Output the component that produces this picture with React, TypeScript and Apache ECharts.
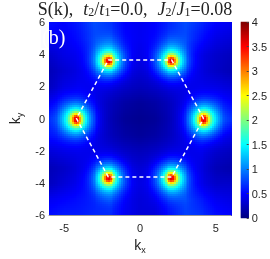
import React, { useEffect, useRef } from "react";
import * as echarts from "echarts";

// axis ranges and ticks
const kRange = [-6, 6];
const xTickValues = [-5, 0, 5];
const yTickInterval = 2;
const cbRange = [0, 4];
const cbInterval = 0.5;

// Bragg peaks (hexagon vertices): sharp core + broad halo
const peakKx = [4.19, 2.09, -2.09, -4.19, -2.09, 2.09];
const peakKy = [0, 3.63, 3.63, 0, -3.63, -3.63];
const peakCore = [1.7, 1.7, 1.7, 1.7, 1.7, 1.7];
const peakCoreWidth = [0.25, 0.25, 0.25, 0.25, 0.25, 0.25];
const peakHalo = [1.5, 1.5, 1.5, 1.5, 1.5, 1.5];
const peakHaloWidth = [0.66, 0.66, 0.66, 0.66, 0.66, 0.66];

// background S(k) read at integer k; rows ky = 6 .. -6, columns kx = -6 .. 6
const bgRow6 = [0.55, 0.5, 0.6, 0.8, 0.7, 0.5, 0.45, 0.5, 0.65, 0.8, 0.65, 0.5, 0.45];
const bgRow5 = [0.45, 0.45, 0.55, 0.75, 0.75, 0.5, 0.45, 0.5, 0.7, 0.75, 0.55, 0.4, 0.35];
const bgRow4 = [0.3, 0.4, 0.45, 0.55, 0.5, 0.45, 0.4, 0.45, 0.5, 0.5, 0.4, 0.3, 0.25];
const bgRow3 = [0.22, 0.32, 0.4, 0.45, 0.4, 0.38, 0.33, 0.38, 0.4, 0.45, 0.38, 0.28, 0.22];
const bgRow2 = [0.25, 0.4, 0.45, 0.42, 0.35, 0.28, 0.24, 0.28, 0.35, 0.4, 0.42, 0.4, 0.35];
const bgRow1 = [0.45, 0.55, 0.5, 0.4, 0.25, 0.15, 0.11, 0.15, 0.25, 0.4, 0.5, 0.55, 0.5];
const bgRow0 = [0.65, 0.65, 0.5, 0.42, 0.22, 0.1, 0.07, 0.1, 0.22, 0.42, 0.5, 0.65, 0.65];
const bgRowM1 = [0.55, 0.55, 0.5, 0.4, 0.25, 0.15, 0.11, 0.15, 0.25, 0.4, 0.5, 0.45, 0.4];
const bgRowM2 = [0.35, 0.4, 0.42, 0.4, 0.35, 0.28, 0.24, 0.28, 0.35, 0.4, 0.42, 0.3, 0.25];
const bgRowM3 = [0.22, 0.28, 0.38, 0.42, 0.4, 0.38, 0.33, 0.38, 0.4, 0.45, 0.38, 0.22, 0.18];
const bgRowM4 = [0.25, 0.35, 0.45, 0.5, 0.5, 0.45, 0.38, 0.42, 0.5, 0.55, 0.42, 0.3, 0.3];
const bgRowM5 = [0.45, 0.5, 0.55, 0.6, 0.7, 0.45, 0.35, 0.4, 0.6, 0.75, 0.6, 0.45, 0.4];
const bgRowM6 = [0.55, 0.6, 0.6, 0.65, 0.65, 0.45, 0.35, 0.35, 0.55, 0.75, 0.7, 0.55, 0.5];
const bgGrid = [bgRow6, bgRow5, bgRow4, bgRow3, bgRow2, bgRow1, bgRow0, bgRowM1, bgRowM2, bgRowM3, bgRowM4, bgRowM5, bgRowM6];

const jet = ["#00007f", "#0000ff", "#007fff", "#00ffff", "#7fff7f", "#ffff00", "#ff7f00", "#ff0000", "#7f0000"];

const N = 96;
const CB_N = 196;

function background(kx: number, ky: number) {
  const c = kx - kRange[0];
  const r = kRange[1] - ky;
  const c0 = Math.max(0, Math.min(Math.floor(c), 11)), r0 = Math.max(0, Math.min(Math.floor(r), 11));
  const fc = c - c0, fr = r - r0;
  const a = bgGrid[r0][c0], b = bgGrid[r0][c0 + 1];
  const d = bgGrid[r0 + 1][c0], e = bgGrid[r0 + 1][c0 + 1];
  return (a * (1 - fc) + b * fc) * (1 - fr) + (d * (1 - fc) + e * fc) * fr;
}

function field(kx: number, ky: number) {
  let v = background(kx, ky);
  for (let p = 0; p < peakKx.length; p++) {
    const dx = kx - peakKx[p], dy = ky - peakKy[p];
    const r2 = dx * dx + dy * dy;
    v += peakCore[p] * Math.exp(-r2 / (2 * peakCoreWidth[p] * peakCoreWidth[p]));
    v += peakHalo[p] * Math.exp(-r2 / (2 * peakHaloWidth[p] * peakHaloWidth[p]));
  }
  return v;
}

export default function App() {
  const ref = useRef<HTMLDivElement>(null);
  useEffect(() => {
    if (!ref.current) return;
    const chart = echarts.init(ref.current, null, { renderer: "svg" });
    const step = (kRange[1] - kRange[0]) / N;
    const heat: number[][] = [];
    for (let i = 0; i < N; i++) {
      for (let j = 0; j < N; j++) {
        const kx = kRange[0] + (i + 0.5) * step;
        const ky = kRange[0] + (j + 0.5) * step;
        heat.push([kx, ky, field(kx, ky)]);
      }
    }
    const cbCats: string[] = [];
    const cbData: number[][] = [];
    for (let j = 0; j < CB_N; j++) {
      cbCats.push(String(j));
      cbData.push([0, j, cbRange[0] + ((j + 0.5) / CB_N) * (cbRange[1] - cbRange[0])]);
    }
    const hex: number[][] = peakKx.map((x, i) => [x, peakKy[i]]);
    hex.push(hex[0]);

    const labelStyle = { fontFamily: "Liberation Sans", fontSize: 11, color: "#262626" };
    const nameRich = {
      k: { fontFamily: "Liberation Sans", fontSize: 14, color: "#222", lineHeight: 18 },
      s: { fontFamily: "Liberation Sans", fontSize: 9, color: "#222", lineHeight: 10, verticalAlign: "bottom" },
    };
    const serif = { fontFamily: "Liberation Serif", fontWeight: "normal", color: "#222" };
    chart.setOption({
      animation: false,
      title: [
        {
          text: "{n|S(k),}{sp| }{i|t}{s|2}{n|/}{i|t}{s|1}{n|=0.0,}{sp| }{i|J}{s|2}{n|/}{i|J}{s|1}{n|=0.08}",
          left: "center",
          top: -1,
          padding: 0,
          textStyle: {
            fontWeight: "normal",
            rich: {
              n: { ...serif, fontSize: 18, lineHeight: 19 },
              i: { ...serif, fontStyle: "italic", fontSize: 18, lineHeight: 19 },
              s: { ...serif, fontSize: 12, lineHeight: 12, verticalAlign: "bottom" },
              sp: { ...serif, fontSize: 18, lineHeight: 19, width: 10 },
            },
          },
        },
        {
          text: "(b)",
          left: 41,
          top: 26,
          padding: 1,
          backgroundColor: "rgba(0,40,255,0.02)",
          textStyle: { fontFamily: "Liberation Serif", fontWeight: "normal", fontSize: 20, color: "#ffffff" },
        },
      ],
      grid: [
        { left: 36, top: 22, width: 195, height: 196, show: true, backgroundColor: "#0a1eff", borderWidth: 0 },
        { left: 241, top: 22, width: 10, height: 196 },
      ],
      visualMap: {
        type: "continuous",
        show: false,
        min: cbRange[0],
        max: cbRange[1],
        dimension: 2,
        seriesIndex: [0, 1],
        inRange: { color: jet },
      },
      xAxis: [
        {
          type: "value", gridIndex: 0, min: kRange[0], max: kRange[1], position: "bottom", z: 5,
          axisLine: { show: true, onZero: false, lineStyle: { color: "#999", width: 1 } },
          axisTick: { show: false },
          splitLine: { show: false },
          axisLabel: { ...labelStyle, margin: 7, customValues: xTickValues },
          name: "{k|k}{s|x}",
          nameLocation: "middle",
          nameGap: 21,
          nameTextStyle: { rich: nameRich },
        },
        { type: "category", gridIndex: 1, data: [""], show: false },
      ],
      yAxis: [
        {
          type: "value", gridIndex: 0, min: kRange[0], max: kRange[1], interval: yTickInterval, position: "left", z: 5,
          axisLine: { show: false, onZero: false },
          axisTick: { show: false },
          splitLine: { show: false },
          axisLabel: { ...labelStyle, margin: 4 },
          name: "{k|k}{s|y}",
          nameLocation: "middle",
          nameRotate: 90,
          nameGap: 25,
          nameTextStyle: { rich: nameRich },
        },
        { type: "category", gridIndex: 1, data: cbCats, show: false },
        {
          type: "value", gridIndex: 1, min: cbRange[0], max: cbRange[1], interval: cbInterval, position: "right", z: 5,
          axisLine: { show: false },
          axisTick: { show: true, inside: true, length: 2, lineStyle: { color: "#444" } },
          splitLine: { show: false },
          axisLabel: { ...labelStyle, margin: 3 },
        },
      ],
      series: [
        {
          type: "custom", xAxisIndex: 0, yAxisIndex: 0, data: heat, clip: true, silent: true,
          encode: { x: 0, y: 1 },
          renderItem: (params: any, api: any) => {
            const kx = api.value(0), ky = api.value(1);
            const p0 = api.coord([kx - step / 2, ky + step / 2]);
            const p1 = api.coord([kx + step / 2, ky - step / 2]);
            const x = Math.round(p0[0]), y = Math.round(p0[1]);
            const w = Math.round(p1[0]) - x + 1, h = Math.round(p1[1]) - y + 1;
            return {
              type: "rect",
              shape: { x, y, width: w, height: h },
              style: { fill: api.visual("color") },
            };
          },
        },
        {
          type: "heatmap", xAxisIndex: 1, yAxisIndex: 1, data: cbData,
          progressive: 0, silent: true, emphasis: { disabled: true },
        },
        {
          type: "line", xAxisIndex: 0, yAxisIndex: 0, data: hex, symbol: "none", silent: true, z: 6,
          lineStyle: { color: "#ffffff", width: 1.5, type: [4, 3] },
        },
      ],
    });
    return () => chart.dispose();
  }, []);
  return <div ref={ref} style={{ position: "fixed", left: 0, top: 0, width: 270, height: 259 }} />;
}
